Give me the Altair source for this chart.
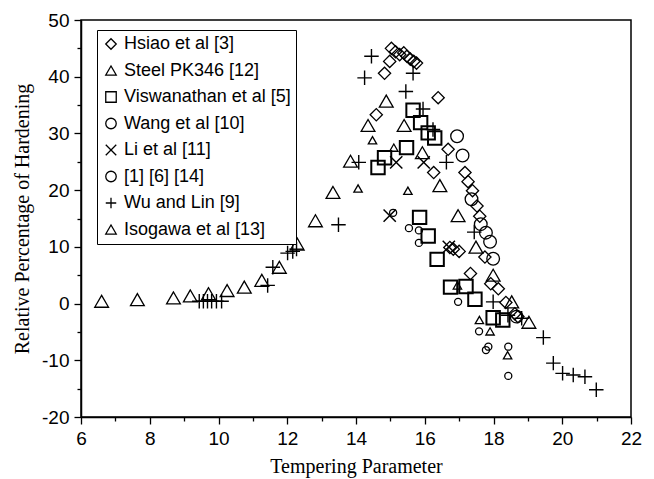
import altair as alt
import pandas as pd

series = ["Hsiao et al [3]", "Steel PK346 [12]", "Viswanathan et al [5]", "Wang et al [10]",
          "Li et al [11]", "[1] [6] [14]", "Wu and Lin [9]", "Isogawa et al [13]"]

hsiao_x = [15.03, 15.15, 15.27, 15.39, 15.48, 15.58, 15.68, 15.76, 14.98, 14.83, 14.59, 16.39,
           16.68, 16.26, 17.17, 17.26, 17.39, 17.52, 17.60, 16.73, 16.83, 17.0, 17.75, 17.33,
           17.92, 18.14, 18.36, 18.62, 18.71]
hsiao_y = [45.0, 44.4, 43.9, 44.2, 43.6, 43.1, 42.7, 42.4, 42.7, 40.6, 33.3, 36.3,
           27.2, 23.1, 23.1, 21.5, 19.9, 17.2, 15.4, 9.9, 9.6, 9.2, 8.2, 5.3,
           3.5, 2.6, 0.2, -1.8, -2.3]

steel_x = [6.60, 7.64, 8.69, 9.18, 9.71, 10.25, 10.75, 11.26, 11.77, 12.29, 12.82, 13.33,
           13.84, 14.35, 14.88, 15.40, 15.93, 16.44, 16.97, 17.49, 17.99, 18.53, 19.03]
steel_y = [0.4, 0.7, 1.0, 1.35, 1.75, 2.3, 2.9, 4.1, 6.4, 10.5, 14.6, 19.6,
           25.1, 31.4, 35.7, 31.4, 26.6, 20.8, 15.5, 9.95, 5.0, 0.3, -3.3]

visw_x = [15.66, 15.88, 16.10, 16.29, 15.47, 14.83, 14.64, 15.85, 16.10, 16.36, 16.75, 17.20,
          17.46, 17.99, 18.27]
visw_y = [34.1, 31.9, 30.1, 29.2, 27.5, 25.7, 24.0, 15.2, 11.9, 7.8, 2.9, 3.0,
          0.75, -2.5, -2.9]

wang_x = [16.94, 17.10, 17.36, 17.63, 17.78, 17.90, 17.99, 18.67]
wang_y = [29.5, 26.1, 18.4, 14.0, 12.5, 10.9, 7.9, -2.3]

li_x = [15.17, 15.97, 14.98, 16.70]
li_y = [24.9, 24.9, 15.5, 10.0]

refs_x = [15.08, 15.54, 15.83, 15.83, 16.97, 17.58, 17.78, 17.85, 18.43, 18.43]
refs_y = [16.0, 13.3, 12.9, 10.7, 0.3, -4.9, -8.2, -7.6, -7.6, -12.75]

wu_x = [9.44, 9.56, 9.68, 9.80, 9.94, 10.09, 11.43, 11.58, 12.01, 12.16, 12.27, 13.49,
        14.08, 14.45, 14.25, 15.66, 15.45, 15.95, 16.24, 16.63, 17.44, 17.99, 18.42, 18.82,
        19.45, 19.74, 20.01, 20.32, 20.66, 20.99]
wu_y = [0.4, 0.4, 0.4, 0.4, 0.4, 0.4, 3.2, 6.4, 8.9, 9.2, 9.6, 13.9,
        24.9, 43.6, 39.8, 40.6, 37.4, 34.3, 30.7, 24.9, 12.6, 0.3, -2.05, -2.6,
        -6.0, -10.5, -12.3, -12.6, -12.9, -15.2]

iso_x = [14.48, 15.10, 14.06, 15.51, 16.95, 17.59, 17.90, 18.41]
iso_y = [28.8, 27.5, 20.3, 19.9, 3.2, -2.9, -4.9, -9.1]

xs = [hsiao_x, steel_x, visw_x, wang_x, li_x, refs_x, wu_x, iso_x]
ys = [hsiao_y, steel_y, visw_y, wang_y, li_y, refs_y, wu_y, iso_y]

shapes = ["diamond", "triangle-up", "square", "circle",
          "M-1,-1L1,1M-1,1L1,-1", "circle", "M-1,0L1,0M0,-1L0,1", "triangle-up"]
sizes = [150, 190, 180, 160, 150, 50, 210, 70]
widths = [1.3, 1.3, 2.0, 1.3, 1.5, 1.3, 1.4, 1.3]

rows = []
for name, sx, sy, sz, sw in zip(series, xs, ys, sizes, widths):
    for a, b in zip(sx, sy):
        rows.append({"series": name, "x": a, "y": b, "sz": sz, "sw": sw})
df = pd.DataFrame(rows)

chart = alt.Chart(df).mark_point(filled=False, color="black", opacity=1).encode(
    x=alt.X("x:Q", scale=alt.Scale(domain=[6, 22], nice=False, zero=False),
            axis=alt.Axis(title="Tempering Parameter",
                          values=list(range(6, 23)),
                          labelExpr="datum.value % 2 === 0 ? toString(datum.value) : ''",
                          tickSize={"condition": {"test": "datum.value % 2 === 0", "value": 7}, "value": 4},
                          labelFlush=False, labelOverlap=False, grid=False)),
    y=alt.Y("y:Q", scale=alt.Scale(domain=[-20, 50], nice=False, zero=False),
            axis=alt.Axis(title="Relative Percentage of Hardening",
                          values=list(range(-20, 51, 5)),
                          labelExpr="datum.value % 10 === 0 ? toString(datum.value) : ''",
                          tickSize={"condition": {"test": "datum.value % 10 === 0", "value": 7}, "value": 4},
                          labelOverlap=False, grid=False)),
    shape=alt.Shape("series:N", scale=alt.Scale(domain=series, range=shapes),
                    legend=alt.Legend(title=None, orient="none", legendX=16, legendY=10,
                                      strokeColor="black", fillColor="white", padding=5,
                                      labelFont="Liberation Sans", labelFontSize=18,
                                      labelColor="black", rowPadding=8.5,
                                      symbolSize=110, symbolStrokeColor="black",
                                      symbolFillColor="transparent", symbolStrokeWidth=1.3,
                                      labelLimit=300)),
    size=alt.Size("sz:Q", scale=None),
    strokeWidth=alt.StrokeWidth("sw:Q", scale=None),
).properties(
    width=550, height=397,
    autosize=alt.AutoSizeParams(type="none"),
    padding={"left": 81, "top": 20, "right": 23, "bottom": 62},
).configure_view(
    stroke="black", strokeWidth=1.5
).configure_axis(
    domainColor="black", domainWidth=1.5, tickColor="black", tickWidth=1.3,
    labelFont="Liberation Sans", labelFontSize=19, labelColor="black",
    titleFont="Liberation Serif", titleFontSize=20, titleFontWeight="normal", titleColor="black",
    labelPadding=5,
).configure_axisX(titlePadding=8).configure_axisY(titlePadding=9)

chart.save("out.html", embed_options={"renderer": "svg", "actions": False})
